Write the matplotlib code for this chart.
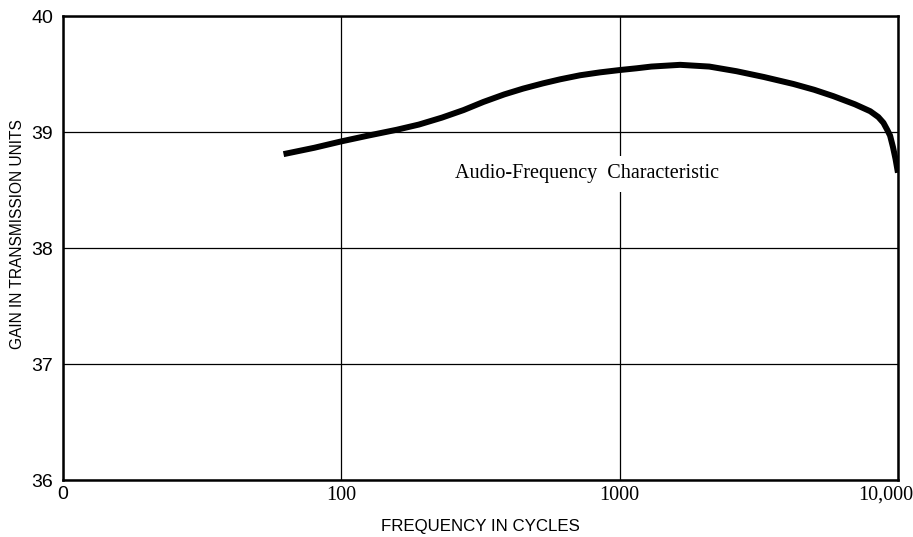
import matplotlib.pyplot as plt
from matplotlib.transforms import offset_copy

# gain curve
freq = [62, 80, 100, 125, 158, 190, 230, 275, 324, 385, 450, 530, 611, 721,
        850, 1000, 1150, 1300, 1650, 2100, 2630, 3300, 4210, 5000, 5860,
        7000, 7950, 8500, 8870, 9150, 9370, 9600, 9800, 10000]
gain = [38.81, 38.865, 38.92, 38.97, 39.02, 39.065, 39.125, 39.19, 39.26,
        39.325, 39.375, 39.42, 39.455, 39.49, 39.515, 39.535, 39.55, 39.565,
        39.58, 39.565, 39.525, 39.475, 39.415, 39.365, 39.31, 39.24, 39.18,
        39.13, 39.08, 39.02, 38.97, 38.87, 38.77, 38.65]

x_ticks = [10, 100, 1000, 10000]
x_labels = ["0", "100", "1000", "10,000"]
y_ticks = [36, 37, 38, 39, 40]

sans = "Liberation Sans"
serif = "Liberation Serif"

fig = plt.figure(figsize=(9.13, 5.37), dpi=100)
ax = fig.add_axes([0.069, 0.106, 0.9145, 0.864])

ax.plot(freq, gain, color="black", lw=4.3, solid_capstyle="butt",
        solid_joinstyle="round", zorder=3)

ax.set_xscale("log")
ax.set_xlim(10, 10000)
ax.set_ylim(36, 40)
ax.set_xticks(x_ticks)
ax.set_xticklabels(x_labels)
ax.minorticks_off()
ax.set_yticks(y_ticks)
ax.tick_params(axis="y", length=0, pad=7, labelsize=14)
ax.tick_params(axis="x", length=0, pad=4)
for lbl in ax.get_yticklabels():
    lbl.set_fontfamily(sans)
for i, lbl in enumerate(ax.get_xticklabels()):
    lbl.set_fontfamily(sans if i == 0 else serif)
    lbl.set_fontsize(14 if i == 0 else 14.5)
last = ax.get_xticklabels()[-1]
last.set_transform(offset_copy(last.get_transform(), fig=fig, x=-12, units="dots"))

ax.grid(True, color="black", lw=0.9)
for s in ax.spines.values():
    s.set_linewidth(1.8)

ax.set_xlabel("FREQUENCY IN CYCLES", fontfamily=sans, fontsize=12.2, labelpad=10)
ax.set_ylabel("GAIN IN TRANSMISSION UNITS", fontfamily=sans, fontsize=11.2)
ax.yaxis.set_label_coords(-0.045, 0.53)

ax.text(764, 38.64, "Audio-Frequency  Characteristic", fontfamily=serif,
        fontsize=14.5, ha="center", va="center", zorder=4,
        bbox=dict(facecolor="white", edgecolor="none", pad=6))

fig.savefig("out.png", dpi=100)
